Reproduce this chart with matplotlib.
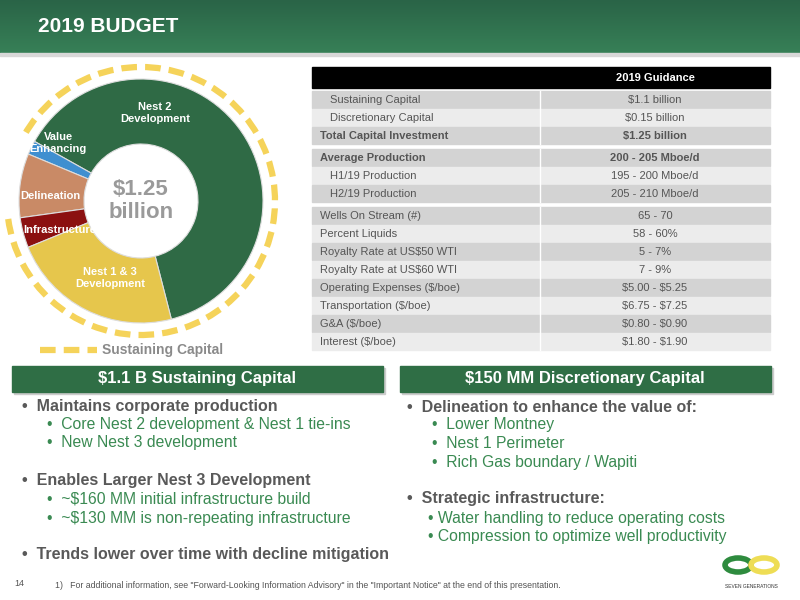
import numpy as np
from matplotlib import pyplot as plt
from matplotlib.patches import Rectangle, Arc, Ellipse

plt.rcParams['text.parse_math'] = False
plt.rcParams['font.family'] = ['Liberation Sans', 'DejaVu Sans']

# donut data ($MM)
seg_labels = ['Nest 2\nDevelopment', 'Value\nEnhancing', 'Delineation', 'Infrastructure', 'Nest 1 & 3\nDevelopment']
seg_values = [786, 23, 106, 50, 285]
seg_colors = ['#2f6a45', '#3f8fd0', '#c98a66', '#8b1010', '#e6c64c']

# table data
row_names = ['Sustaining Capital', 'Discretionary Capital', 'Total Capital Investment',
             'Average Production', 'H1/19 Production', 'H2/19 Production',
             'Wells On Stream (#)', 'Percent Liquids', 'Royalty Rate at US$50 WTI',
             'Royalty Rate at US$60 WTI', 'Operating Expenses ($/boe)',
             'Transportation ($/boe)', 'G&A ($/boe)', 'Interest ($/boe)']
row_values = ['$1.1 billion', '$0.15 billion', '$1.25 billion', '200 - 205 Mboe/d',
              '195 - 200 Mboe/d', '205 - 210 Mboe/d', '65 - 70', '58 - 60%', '5 - 7%',
              '7 - 9%', '$5.00 - $5.25', '$6.75 - $7.25', '$0.80 - $0.90', '$1.80 - $1.90']
row_bold = [False, False, True, True, False, False, False, False, False, False, False, False, False, False]
row_indent = [True, True, False, False, True, True, False, False, False, False, False, False, False, False]
row_dark = [True, False, True, True, False, True, True, False, True, False, True, False, True, False]

left_bullets = [('Maintains corporate production', 0), ('Core Nest 2 development & Nest 1 tie-ins', 1),
                ('New Nest 3 development', 1), ('', 0), ('Enables Larger Nest 3 Development', 0),
                ('~$160 MM initial infrastructure build', 1), ('~$130 MM is non-repeating infrastructure', 1),
                ('', 0), ('Trends lower over time with decline mitigation', 0)]
right_bullets = [('Delineation to enhance the value of:', 0), ('Lower Montney', 1),
                 ('Nest 1 Perimeter', 1), ('Rich Gas boundary / Wapiti', 1), ('', 0),
                 ('Strategic infrastructure:', 0), ('Water handling to reduce operating costs', 2),
                 ('Compression to optimize well productivity', 2)]

fig = plt.figure(figsize=(8, 6), dpi=100)
bg = fig.add_axes([0, 0, 1, 1])
bg.set_xlim(0, 800)
bg.set_ylim(600, 0)
bg.axis('off')

# header with gradient
grad = np.linspace(0, 1, 50).reshape(-1, 1)
bg.imshow(grad, extent=[0, 800, 53, 0], aspect='auto',
          cmap=plt.matplotlib.colors.LinearSegmentedColormap.from_list('g', ['#2a6447', '#378057']))
bg.add_patch(Rectangle((0, 53), 800, 3, color='#d8d8d8'))
bg.text(38, 27, '2019 BUDGET', color='white', fontsize=15, fontweight='bold', va='center')

# table
x0, xs, x1 = 312, 540, 770
bg.add_patch(Rectangle((x0, 67), x1 - x0, 21, color='black'))
bg.text((xs + x1) / 2, 78, '2019 Guidance', color='white', fontsize=8, fontweight='bold',
        ha='center', va='center')
y = 91
for i, name in enumerate(row_names):
    if i in (3, 6):
        y += 4
    bg.add_patch(Rectangle((x0, y), x1 - x0, 17, color='#d3d3d3' if row_dark[i] else '#ececec'))
    bg.plot([xs, xs], [y, y + 17], color='white', lw=1)
    w = 'bold' if row_bold[i] else 'normal'
    bg.text(x0 + (18 if row_indent[i] else 8), y + 9, name, fontsize=8, color='#555555',
            fontweight=w, va='center')
    bg.text((xs + x1) / 2, y + 9, row_values[i], fontsize=8, color='#555555',
            fontweight=w, va='center', ha='center')
    y += 18

# section headers
for bx, title in [(12, '$1.1 B Sustaining Capital'), (400, '$150 MM Discretionary Capital')]:
    bg.add_patch(Rectangle((bx + 2, 368), 371, 26, color='#cccccc'))
    bg.add_patch(Rectangle((bx, 366), 371, 26, color='#2f6e45'))
    bg.text(bx + 185, 379, title, color='white', fontsize=12, fontweight='bold',
            ha='center', va='center')


def bullets(items, bx, ys):
    for (txt, lvl), yy in zip(items, ys):
        if not txt:
            continue
        if lvl == 0:
            bg.text(bx, yy, '•  ' + txt, fontsize=11.5, fontweight='bold', color='#595959', va='center')
        elif lvl == 1:
            bg.text(bx + 25, yy, '•  ' + txt, fontsize=11.3, color='#3a8a52', va='center')
        else:
            bg.text(bx + 21, yy, '• ' + txt, fontsize=11.3, color='#3a8a52', va='center')


bullets(left_bullets, 22, [407, 425, 443, 461, 481, 499, 518, 537, 555])
bullets(right_bullets, 407, [407, 425, 443, 462, 481, 499, 518, 536])

bg.text(14, 584, '14', fontsize=6.5, color='#555555', va='center')
bg.text(55, 585, '1)   For additional information, see "Forward-Looking Information Advisory" in the '
        '"Important Notice" at the end of this presentation.', fontsize=6.3, color='#555555', va='center')

# logo
bg.add_patch(Ellipse((738, 565), 26, 14, fill=False, ec='#2e8b3e', lw=4))
bg.add_patch(Ellipse((764, 565), 26, 14, fill=False, ec='#eedd55', lw=4))
bg.text(751, 587, 'SEVEN GENERATIONS', fontsize=3.5, color='#333333', ha='center', va='center')

# donut
cx, cy = 141, 201
ax = fig.add_axes([(cx - 145) / 800, 1 - (cy + 145) / 600, 290 / 800, 290 / 600])
ax.pie(seg_values, colors=seg_colors, startangle=-75.6, counterclock=True, radius=1.22,
       wedgeprops=dict(width=0.65, edgecolor='#dddddd', linewidth=0.8))
ax.set_xlim(-1.45, 1.45)
ax.set_ylim(-1.45, 1.45)
ax.set_aspect('equal')
ax.axis('off')
total = sum(seg_values)
ax.text(0, 0.0, '$%.2f\nbillion' % (total / 1000), ha='center', va='center', fontsize=16,
        fontweight='bold', color='#9a9a9a', linespacing=1.1)
label_pos = [(0.14, 0.88), (-0.83, 0.58), (-0.91, 0.05), (-0.81, -0.29), (-0.31, -0.77)]
for lab, (lx, ly) in zip(seg_labels, label_pos):
    ax.text(lx, ly, lab, ha='center', va='center', fontsize=8, fontweight='bold', color='white')

# sustaining capital arc (everything except the discretionary wedges)
a_start = 180 + 7.7
a_end = 360 + 150.8
ax.add_patch(Arc((0, 0), 2.68, 2.68, theta1=a_start, theta2=a_end, color='#f5d35a', lw=4.5,
                 linestyle=(0, (2.5, 1.3)), clip_on=False))
bg.plot([40, 97], [350, 350], color='#f5d35a', lw=4.5, linestyle=(0, (2.5, 1.3)))
bg.text(102, 350, 'Sustaining Capital', fontsize=10, fontweight='bold', color='#8a8a8a', va='center')

fig.savefig('out.png', dpi=100)
